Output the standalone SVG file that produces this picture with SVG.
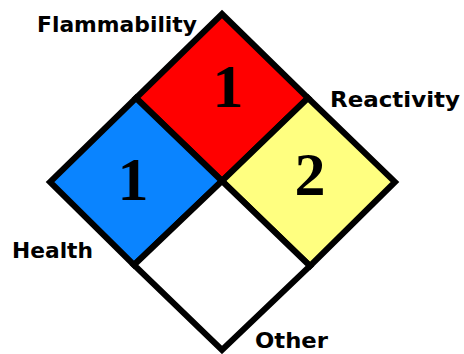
<svg xmlns="http://www.w3.org/2000/svg" width="464" height="354" viewBox="0 0 464 354">
<style>
.q{stroke:#000;stroke-width:6;stroke-linejoin:miter}
.num{font-family:"Liberation Serif",serif;font-weight:bold;font-size:62px;text-anchor:middle;fill:#000}
.lbl{font-family:"DejaVu Sans",sans-serif;font-weight:bold;font-size:22px;fill:#000}
</style>
<rect width="464" height="354" fill="#fff"/>
<g id="flammability">
<polygon class="q" points="222,14 308,98 222,181 136,98" fill="#ff0000"/>
<text class="num" x="228" y="107">1</text>
</g>
<g id="health">
<polygon class="q" points="136,98 222,181 134,265 50,182" fill="#0a84ff"/>
<text class="num" x="133" y="200">1</text>
</g>
<g id="reactivity">
<polygon class="q" points="308,98 395,182 310,266 222,181" fill="#ffff80"/>
<text class="num" x="310" y="195">2</text>
</g>
<g id="other">
<polygon class="q" points="222,181 310,266 222,350 134,265" fill="#ffffff"/>
</g>
<g id="labels">
<text class="lbl" x="37" y="32" textLength="160" lengthAdjust="spacingAndGlyphs">Flammability</text>
<text class="lbl" x="330" y="107" textLength="130" lengthAdjust="spacingAndGlyphs">Reactivity</text>
<text class="lbl" x="12" y="258" textLength="81" lengthAdjust="spacingAndGlyphs">Health</text>
<text class="lbl" x="255" y="348" textLength="73" lengthAdjust="spacingAndGlyphs">Other</text>
</g>
</svg>
